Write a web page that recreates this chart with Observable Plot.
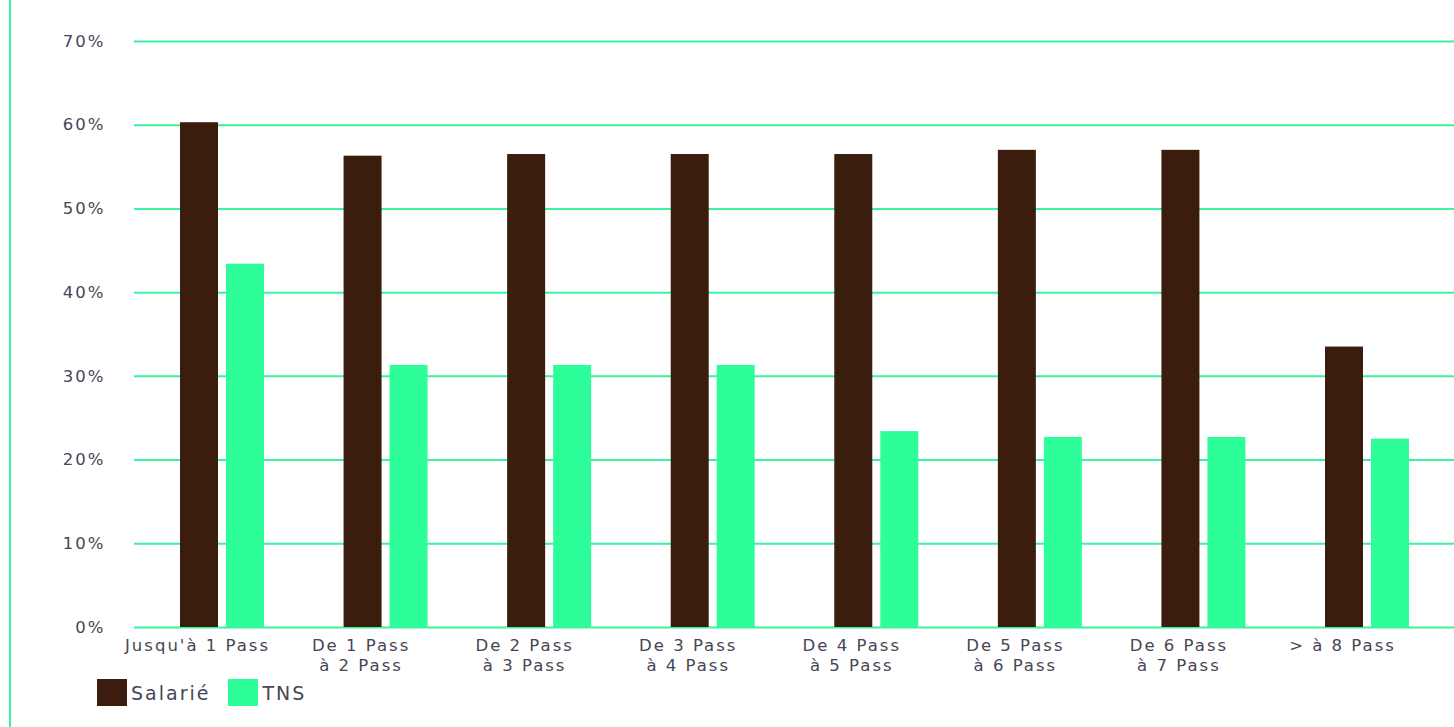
<!DOCTYPE html>
<html>
<head>
<meta charset="utf-8">
<script src="https://cdn.jsdelivr.net/npm/d3@7"></script>
<script src="https://cdn.jsdelivr.net/npm/@observablehq/plot@0.6"></script>
<style>
  html, body { margin: 0; padding: 0; background: #fff; }
  #wrap { position: relative; width: 1454px; height: 727px; overflow: hidden; }
  #vline { position: absolute; left: 9px; top: 0; width: 2px; height: 727px; background: #3cf2a0; }
  #chart svg text { letter-spacing: 2px; }
  #legend { display: flex; align-items: center; margin-left: 97px; margin-top: 4px;
            font-family: "DejaVu Sans", sans-serif; font-size: 19px; letter-spacing: 2px; color: #464655; }
  .sw { width: 30px; height: 27px; display: inline-block; }
  .item { display: flex; align-items: center; }
  .item span.t { margin-left: 4px; margin-right: 18px; }
</style>
</head>
<body>
<div id="wrap"><div id="vline"></div><div id="chart"></div>
<div id="legend">
  <div class="item"><span class="sw" style="background:#3b1d0e"></span><span class="t">Salarié</span></div>
  <div class="item"><span class="sw" style="background:#2dfe9a"></span><span class="t">TNS</span></div>
</div>
</div>
<script>
const categories = ["Jusqu'à 1 Pass", "De 1 Pass\nà 2 Pass", "De 2 Pass\nà 3 Pass", "De 3 Pass\nà 4 Pass", "De 4 Pass\nà 5 Pass", "De 5 Pass\nà 6 Pass", "De 6 Pass\nà 7 Pass", "> à 8 Pass"];
const salarie = [60.3, 56.3, 56.5, 56.5, 56.5, 57.0, 57.0, 33.5];
const tns = [43.4, 31.3, 31.3, 31.3, 23.4, 22.7, 22.7, 22.5];
const yTicks = [0, 10, 20, 30, 40, 50, 60, 70];

const dataS = categories.map((c, i) => ({cat: c, v: salarie[i]}));
const dataT = categories.map((c, i) => ({cat: c, v: tns[i]}));

const chart = Plot.plot({
  width: 1454,
  height: 675,
  marginTop: 41,
  marginBottom: 48,
  marginLeft: 134,
  marginRight: 0,
  style: {fontFamily: "DejaVu Sans, sans-serif", fontSize: "16.5px", color: "#464655", background: "transparent"},
  x: {domain: categories, range: [140.2, 1448.8], paddingInner: 0.4865, paddingOuter: 0.2433, align: 0.5, round: false},
  y: {domain: [0, 70]},
  marks: [
    Plot.ruleY(yTicks, {stroke: "#3cf2a0", strokeWidth: 2}),
    Plot.barY(dataS, {x: "cat", y: "v", fill: "#3b1d0e", insetRight: 46}),
    Plot.barY(dataT, {x: "cat", y: "v", fill: "#2dfe9a", insetLeft: 46}),
    Plot.axisY({ticks: yTicks, tickSize: 0, tickPadding: 29, tickFormat: d => d + "%", label: null, fontSize: 16.5}),
    Plot.axisX({tickSize: 0, tickPadding: 9, dx: -25, label: null, fontSize: 16.5, lineHeight: 1.22})
  ]
});
document.getElementById("chart").appendChild(chart);
</script>
</body>
</html>
